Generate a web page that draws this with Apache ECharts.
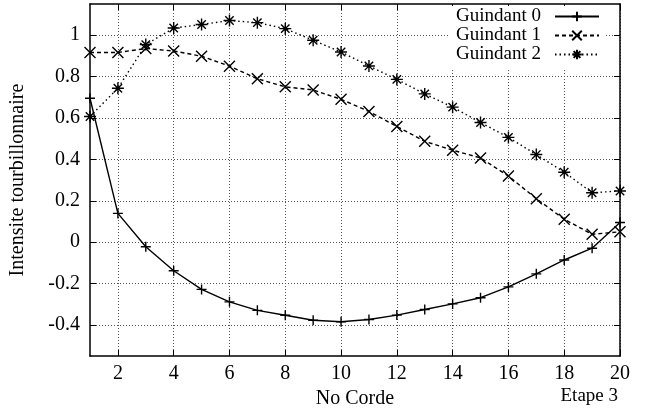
<!DOCTYPE html>
<html>
<head>
<meta charset="utf-8">
<script src="https://cdn.jsdelivr.net/npm/echarts@6/dist/echarts.min.js"></script>
<style>
  html, body { margin: 0; padding: 0; background: #fff; }
  #echartsMain { width: 645px; height: 414px; }
</style>
</head>
<body>
<div id="echartsMain"></div>
<script>
// numero de corde
var cordes = [1, 2, 3, 4, 5, 6, 7, 8, 9, 10, 11, 12, 13, 14, 15, 16, 17, 18, 19, 20];

// intensite tourbillonnaire, une liste par guindant
var guindant0 = [0.695, 0.139, -0.022, -0.138, -0.228, -0.288, -0.329, -0.353, -0.377, -0.384,
                 -0.373, -0.352, -0.325, -0.298, -0.268, -0.216, -0.153, -0.086, -0.029, 0.095];
var guindant1 = [0.916, 0.916, 0.935, 0.923, 0.898, 0.850, 0.789, 0.750, 0.735, 0.690,
                 0.631, 0.559, 0.487, 0.444, 0.407, 0.319, 0.210, 0.111, 0.038, 0.050];
var guindant2 = [0.607, 0.743, 0.954, 1.034, 1.051, 1.070, 1.060, 1.031, 0.975, 0.918,
                 0.851, 0.786, 0.716, 0.652, 0.578, 0.506, 0.423, 0.338, 0.239, 0.247];

// graduations
var xTicks = [2, 4, 6, 8, 10, 12, 14, 16, 18, 20];
var yTicks = [-0.4, -0.2, 0, 0.2, 0.4, 0.6, 0.8, 1];

function pairs(vals) {
	return cordes.map(function (c, i) { return [c, vals[i]]; });
}

var symPlus = 'path://M0,5L10,5M5,0L5,10';
var symCross = 'path://M0,0L10,10M0,10L10,0';
var symStar = 'path://M0,5L10,5M5,0L5,10M1.5,1.5L8.5,8.5M1.5,8.5L8.5,1.5';

var police = 'Liberation Serif';
var taille = 20;

var myChart = echarts.init(document.getElementById('echartsMain'));

var axeLigne = { show: true, onZero: false, lineStyle: { color: '#000', width: 1.5 } };
var grille = { show: true, lineStyle: { color: '#555', type: [1, 2], width: 1 } };

var option = {
	animation: false,
	backgroundColor: '#fff',
	textStyle: { fontFamily: police, color: '#000' },
	grid: { left: 86, right: 25, top: 4, bottom: 57, containLabel: false },
	legend: {
		orient: 'vertical',
		right: 39,
		top: 6,
		align: 'right',
		itemWidth: 44,
		itemHeight: 12,
		itemGap: 0,
		padding: [1, 6, 4, 8],
		backgroundColor: '#fff',
		textStyle: { fontFamily: police, fontSize: 19, lineHeight: 17, color: '#000', padding: [0, 9, 0, 0] },
		data: ['Guindant 0', 'Guindant 1', 'Guindant 2']
	},
	xAxis: [{
		type: 'value',
		min: 1,
		max: 20,
		name: 'No Corde',
		nameLocation: 'middle',
		nameGap: 30,
		nameTextStyle: { fontFamily: police, fontSize: taille, color: '#000' },
		axisLine: axeLigne,
		axisTick: { show: true, inside: true, length: 6, customValues: xTicks, lineStyle: { color: '#000', width: 1 } },
		axisLabel: { customValues: xTicks, fontFamily: police, fontSize: taille, color: '#000', margin: 8 },
		splitLine: grille
	}, {
		type: 'value',
		position: 'top',
		min: 1,
		max: 20,
		axisLine: axeLigne,
		axisTick: { show: true, inside: true, length: 6, customValues: xTicks, lineStyle: { color: '#000' } },
		axisLabel: { show: false },
		splitLine: { show: false }
	}],
	yAxis: [{
		type: 'value',
		min: -0.55,
		max: 1.15,
		name: 'Intensite tourbillonnaire',
		nameLocation: 'middle',
		nameGap: 62,
		nameTextStyle: { fontFamily: police, fontSize: taille, color: '#000' },
		axisLine: axeLigne,
		axisTick: { show: true, inside: true, length: 6, customValues: yTicks, lineStyle: { color: '#000' } },
		axisLabel: {
			customValues: yTicks,
			fontFamily: police, fontSize: taille, color: '#000', margin: 10,
			formatter: function (v) { return String(Math.round(v * 10) / 10); }
		},
		splitLine: grille
	}, {
		type: 'value',
		position: 'right',
		min: -0.55,
		max: 1.15,
		axisLine: axeLigne,
		axisTick: { show: true, inside: true, length: 6, customValues: yTicks, lineStyle: { color: '#000' } },
		axisLabel: { show: false },
		splitLine: { show: false }
	}],
	graphic: [{
		type: 'text',
		right: 27,
		top: 387,
		style: { text: 'Etape 3', fontFamily: police, fontSize: 19, fill: '#000' }
	}],
	series: [{
		name: 'Guindant 0',
		type: 'line',
		data: pairs(guindant0),
		symbol: symPlus,
		symbolSize: 10,
		lineStyle: { color: '#000', width: 1.4, type: 'solid' },
		itemStyle: { color: '#000', borderColor: '#000', borderWidth: 1.4 }
	}, {
		name: 'Guindant 1',
		type: 'line',
		data: pairs(guindant1),
		symbol: symCross,
		symbolSize: 11,
		lineStyle: { color: '#000', width: 1.4, type: [4, 3] },
		itemStyle: { color: '#000', borderColor: '#000', borderWidth: 1.4 }
	}, {
		name: 'Guindant 2',
		type: 'line',
		data: pairs(guindant2),
		symbol: symStar,
		symbolSize: 12,
		lineStyle: { color: '#000', width: 1.4, type: [1.5, 3] },
		itemStyle: { color: '#000', borderColor: '#000', borderWidth: 1.4 }
	}]
};

myChart.setOption(option);
</script>
</body>
</html>
